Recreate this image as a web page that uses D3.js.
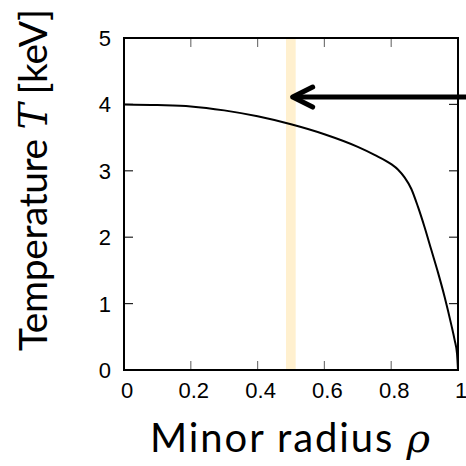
<!DOCTYPE html>
<html>
<head>
<meta charset="utf-8">
<script src="https://cdn.jsdelivr.net/npm/d3@7"></script>
<style>
  html, body { margin: 0; padding: 0; background: #fff; }
  svg { display: block; }
</style>
</head>
<body>
<svg id="chart" width="466" height="466"></svg>
<script>
// Temperature profile T(rho)
const rho  = [0, 0.1, 0.2, 0.3, 0.4, 0.5, 0.6, 0.7, 0.75, 0.8, 0.82, 0.84, 0.86, 0.88, 0.9, 0.92, 0.94, 0.96, 0.98, 0.99, 0.997, 1.0];
const temp = [4.00, 3.99, 3.97, 3.91, 3.82, 3.70, 3.55, 3.36, 3.24, 3.10, 3.02, 2.90, 2.73, 2.46, 2.15, 1.81, 1.47, 1.10, 0.68, 0.45, 0.25, 0.0];

// Highlighted radial band and the arrow pointing at it
const band = [0.485, 0.514];
const arrowTip = [0.505, 4.11];
const arrowTail = [1.03, 4.11];

const xTicks = [0, 0.2, 0.4, 0.6, 0.8, 1];
const xTickLabels = ["0", "0.2", "0.4", "0.6", "0.8", "1"];
const yTicks = [0, 1, 2, 3, 4, 5];
const yTickLabels = ["0", "1", "2", "3", "4", "5"];

const svg = d3.select("#chart");
const plotLeft = 124, plotRight = 458, plotTop = 38, plotBottom = 370;

const x = d3.scaleLinear().domain([0, 1]).range([plotLeft, plotRight]);
const y = d3.scaleLinear().domain([0, 5]).range([plotBottom, plotTop]);

// band
svg.append("rect")
  .attr("x", x(band[0]))
  .attr("y", y(5))
  .attr("width", x(band[1]) - x(band[0]))
  .attr("height", y(0) - y(5))
  .attr("fill", "#fff0cf");

// ticks (inward)
const tickLen = 9;
const g = svg.append("g");
xTicks.slice(1, -1).forEach(v => {
  g.append("line").attr("x1", x(v)).attr("x2", x(v)).attr("y1", y(0)).attr("y2", y(0) - tickLen)
    .attr("stroke", "#777").attr("stroke-width", 1.2);
  g.append("line").attr("x1", x(v)).attr("x2", x(v)).attr("y1", y(5)).attr("y2", y(5) + tickLen)
    .attr("stroke", "#777").attr("stroke-width", 1.2);
});
yTicks.slice(1, -1).forEach(v => {
  g.append("line").attr("x1", x(0)).attr("x2", x(0) + tickLen).attr("y1", y(v)).attr("y2", y(v))
    .attr("stroke", "#222").attr("stroke-width", 1.2);
  g.append("line").attr("x1", x(1)).attr("x2", x(1) - tickLen).attr("y1", y(v)).attr("y2", y(v))
    .attr("stroke", "#222").attr("stroke-width", 1.2);
});

// curve
const line = d3.line()
  .x((d, i) => x(rho[i]))
  .y((d, i) => y(temp[i]))
  .curve(d3.curveMonotoneX);
svg.append("path")
  .datum(rho)
  .attr("d", line)
  .attr("fill", "none")
  .attr("stroke", "#000")
  .attr("stroke-width", 2);

// frame
svg.append("rect")
  .attr("x", x(0)).attr("y", y(5))
  .attr("width", x(1) - x(0)).attr("height", y(0) - y(5))
  .attr("fill", "none").attr("stroke", "#000").attr("stroke-width", 2);

// tick labels
svg.append("g").selectAll("text").data(xTicks).join("text")
  .attr("x", d => x(d) + 3)
  .attr("y", 398)
  .attr("text-anchor", "middle")
  .attr("font-family", "'Liberation Sans', Arial, sans-serif")
  .attr("font-size", 22)
  .attr("fill", "#000")
  .text((d, i) => xTickLabels[i]);

svg.append("g").selectAll("text").data(yTicks).join("text")
  .attr("x", 111)
  .attr("y", d => y(d) + 8)
  .attr("text-anchor", "end")
  .attr("font-family", "'Liberation Sans', Arial, sans-serif")
  .attr("font-size", 22)
  .attr("fill", "#000")
  .text((d, i) => yTickLabels[i]);

// arrow
const arrow = svg.append("g")
  .attr("stroke", "#000").attr("stroke-width", 5)
  .attr("stroke-linecap", "round").attr("fill", "none");
arrow.append("line")
  .attr("x1", x(arrowTail[0])).attr("y1", y(arrowTail[1]))
  .attr("x2", x(arrowTip[0]) + 2).attr("y2", y(arrowTip[1]));
arrow.append("path")
  .attr("stroke-linejoin", "round")
  .attr("d", `M${x(arrowTip[0]) + 20},${y(arrowTip[1]) - 10} L${x(arrowTip[0])},${y(arrowTip[1])} L${x(arrowTip[0]) + 20},${y(arrowTip[1]) + 10}`);

// axis titles
const xt = svg.append("text")
  .attr("x", 150).attr("y", 452)
  .attr("font-family", "Lato, 'Open Sans', sans-serif")
  .attr("font-size", 40)
  .attr("textLength", 280)
  .attr("lengthAdjust", "spacing")
  .attr("fill", "#000");
xt.append("tspan").text("Minor radius ");
xt.append("tspan").attr("font-style", "italic").attr("font-family", "'DejaVu Serif', serif").text("ρ");

const yt = svg.append("text")
  .attr("transform", "translate(47,351) rotate(-90)")
  .attr("font-family", "Lato, 'Open Sans', sans-serif")
  .attr("font-size", 39)
  .attr("textLength", 342)
  .attr("lengthAdjust", "spacing")
  .attr("fill", "#000");
yt.append("tspan").text("Temperature ");
yt.append("tspan").attr("font-style", "italic").attr("font-family", "'DejaVu Serif', serif").text("T");
yt.append("tspan").text(" [keV]");
</script>
</body>
</html>
